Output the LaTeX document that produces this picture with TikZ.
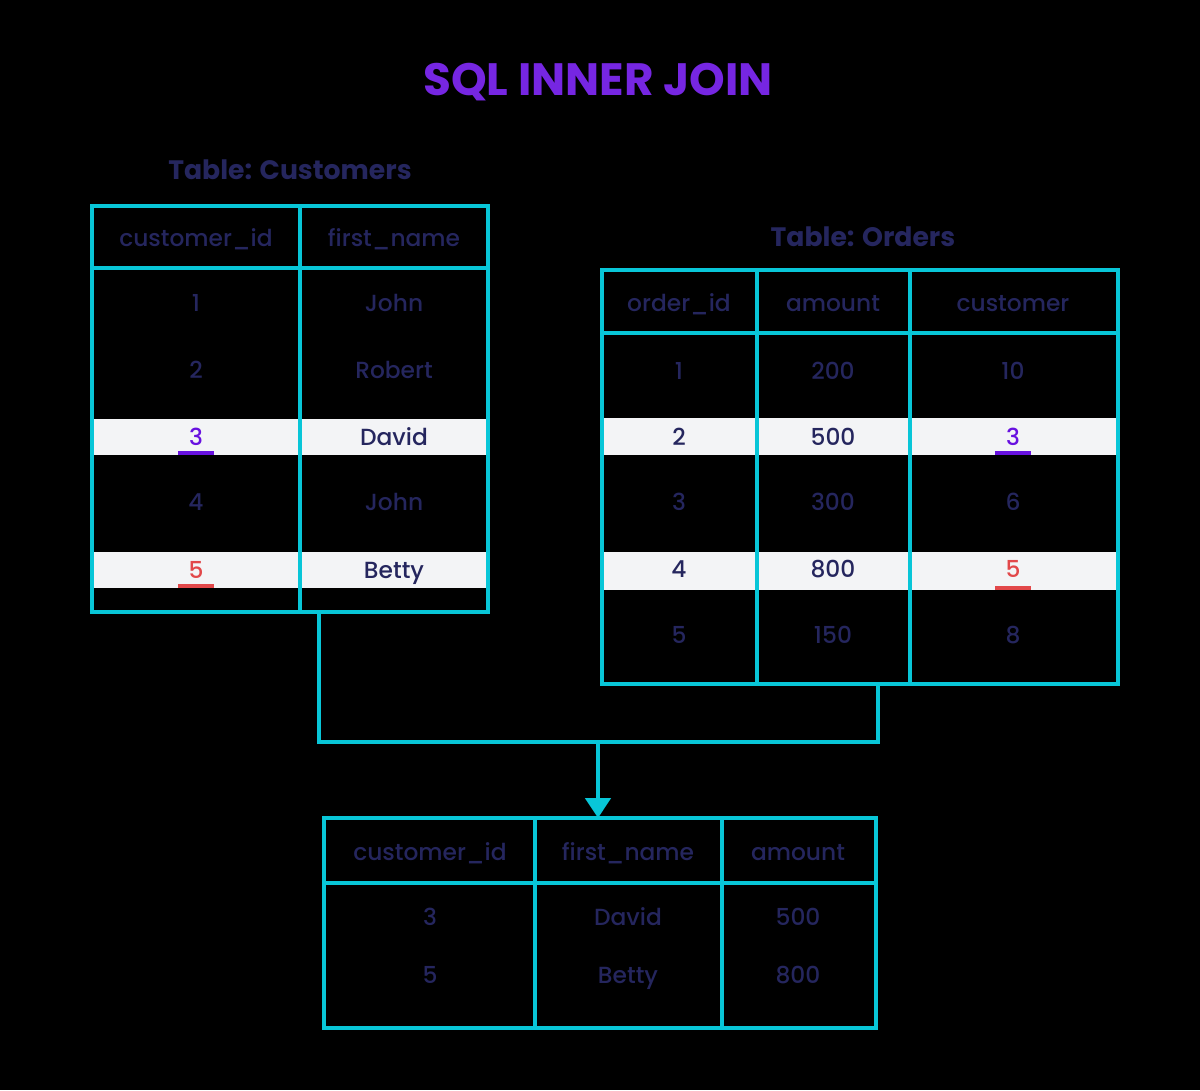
\documentclass[tikz,border=0pt]{standalone}
\usepackage{fontspec}
\setmainfont{Poppins}
\newfontfamily\mediumfont{Poppins Medium}
\usetikzlibrary{arrows.meta}

\definecolor{navy}{RGB}{37,38,94}
\definecolor{joinpurple}{RGB}{118,38,226}
\definecolor{keypurple}{RGB}{104,17,224}
\definecolor{keyred}{RGB}{226,72,74}
\definecolor{bandgray}{RGB}{243,244,246}
\definecolor{tabcyan}{RGB}{8,198,216}

\tikzset{every picture/.style={line width=0.75pt}}
\tikzset{
  tabline/.style={draw=tabcyan, line width=3pt},
  tabframe/.style={tabline, rectangle, anchor=north west, inner sep=0pt, outer sep=0pt},
  band/.style={fill=bandgray},
  cell/.style={inner sep=0.75pt, text=navy, text height=12pt, text depth=0pt, font=\mediumfont\fontsize{17.5}{20}\selectfont},
  label/.style={inner sep=0.75pt, text=navy, font=\fontsize{20}{24}\selectfont\bfseries},
  keymark/.style={line width=3pt}
}

\begin{document}
\begin{tikzpicture}[x=0.75pt,y=0.75pt,yscale=-1,xscale=1]
\fill[black] (0,0) rectangle (1200,1090);
\useasboundingbox (0,0) rectangle (1200,1090);

% Title
\node[inner sep=0.75pt, text=joinpurple, font=\fontsize{34}{40}\selectfont\bfseries] (title) at (598,82) {SQL INNER JOIN};

% Labels
\node[label] (custlabel) at (290,170) {Table: Customers};
\node[label] (ordlabel) at (863,237) {Table: Orders};

%Highlighted rows
\fill[band] (94,419) rectangle (486,455);
\fill[band] (94,552) rectangle (486,588);
\fill[band] (604,418) rectangle (1116,455);
\fill[band] (604,552) rectangle (1116,590);

%Key underlines
\draw[keymark, keypurple] (178,453) -- (214,453);
\draw[keymark, keyred] (178,586) -- (214,586);
\draw[keymark, keypurple] (995,453) -- (1031,453);
\draw[keymark, keyred] (995,588) -- (1031,588);

%Table frames
\node[tabframe, minimum width=297pt, minimum height=304.5pt] (cust) at (92,206) {};
\node[tabframe, minimum width=387pt, minimum height=310.5pt] (ord) at (602,270) {};
\node[tabframe, minimum width=414pt, minimum height=157.5pt] (res) at (324,818) {};

%Grid lines of Customers
\draw[tabline] (cust.north west) ++(0,62) -- ++(396,0) ;
\draw[tabline] (300,206) -- (300,612) ;
%Grid lines of Orders
\draw[tabline] (ord.north west) ++(0,63) -- ++(516,0) ;
\draw[tabline] (757,270) -- (757,684) ;
\draw[tabline] (910,270) -- (910,684) ;
%Grid lines of result
\draw[tabline] (res.north west) ++(0,65) -- ++(552,0) ;
\draw[tabline] (535,818) -- (535,1028) ;
\draw[tabline] (722,818) -- (722,1028) ;

%Connectors
\coordinate (joinpt) at (598,742);
\draw[tabline] ([xshift=21.75pt]cust.south) -- ++(0,130) -| ([xshift=13.5pt]ord.south) ;
\draw[tabline, -{Triangle[width=19pt,length=15pt]}] (joinpt) -- ([xshift=-1.5pt]res.north) ;

% Text Node customers
\node[cell] (c-h1) at (196,238) {customer\_id};
\node[cell] (c-h2) at (394,238) {first\_name};
\node[cell] (c-a1) at (196,303) {1};
\node[cell] (c-b1) at (394,303) {John};
\node[cell] (c-a2) at (196,370) {2};
\node[cell] (c-b2) at (394,370) {Robert};
\node[cell, text=keypurple] (c-a3) at (196,437) {3};
\node[cell] (c-b3) at (394,437) {David};
\node[cell] (c-a4) at (196,502) {4};
\node[cell] (c-b4) at (394,502) {John};
\node[cell, text=keyred] (c-a5) at (196,570) {5};
\node[cell] (c-b5) at (394,570) {Betty};

% Text Node orders
\node[cell] (o-h1) at (679,303) {order\_id};
\node[cell] (o-h2) at (833,303) {amount};
\node[cell] (o-h3) at (1013,303) {customer};
\node[cell] (o-a1) at (679,371) {1};
\node[cell] (o-b1) at (833,371) {200};
\node[cell] (o-c1) at (1013,371) {10};
\node[cell] (o-a2) at (679,437) {2};
\node[cell] (o-b2) at (833,437) {500};
\node[cell, text=keypurple] (o-c2) at (1013,437) {3};
\node[cell] (o-a3) at (679,502) {3};
\node[cell] (o-b3) at (833,502) {300};
\node[cell] (o-c3) at (1013,502) {6};
\node[cell] (o-a4) at (679,569) {4};
\node[cell] (o-b4) at (833,569) {800};
\node[cell, text=keyred] (o-c4) at (1013,569) {5};
\node[cell] (o-a5) at (679,635) {5};
\node[cell] (o-b5) at (833,635) {150};
\node[cell] (o-c5) at (1013,635) {8};

% Text Node result
\node[cell] (r-h1) at (430,852) {customer\_id};
\node[cell] (r-h2) at (628,852) {first\_name};
\node[cell] (r-h3) at (798,852) {amount};
\node[cell] (r-a1) at (430,917) {3};
\node[cell] (r-b1) at (628,917) {David};
\node[cell] (r-c1) at (798,917) {500};
\node[cell] (r-a2) at (430,975) {5};
\node[cell] (r-b2) at (628,975) {Betty};
\node[cell] (r-c2) at (798,975) {800};

\end{tikzpicture}
\end{document}
